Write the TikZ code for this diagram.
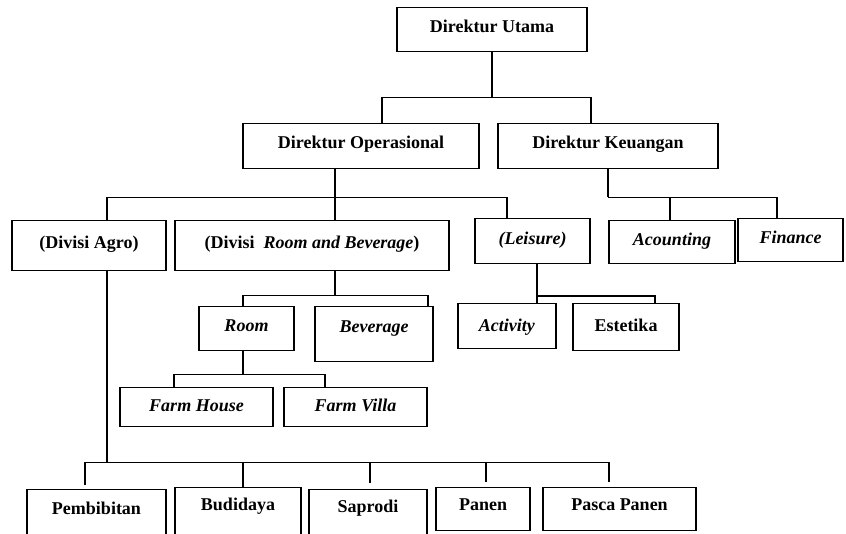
\documentclass[tikz,border=0pt]{standalone}
\usepackage{fontspec}
\setmainfont{Liberation Serif}
\begin{document}
\begin{tikzpicture}
  [x=1pt,y=-1pt,line width=1.3pt,
   every node/.style={draw,anchor=north,inner sep=0pt,font=\fontsize{18}{20}\selectfont\bfseries},
   bx/.style n args={3}{minimum width=#1,text height=#2,text depth=#3}]
  \useasboundingbox (0,0) rectangle (846,533);
  \clip (0,0) rectangle (846,533);

  \node[bx={190pt}{25pt}{19pt}] (du) at (492,7) {Direktur Utama};
  \node[bx={236pt}{25pt}{20pt}] (dop) at (361,123) {Direktur Operasional};
  \node[bx={220pt}{25pt}{20pt}] (dk) at (608,123) {Direktur Keuangan};

  \node[bx={154pt}{28pt}{22pt}] (agro) at (89,220) {(Divisi Agro)};
  \node[bx={274pt}{28pt}{22pt}] (rb) at (312,220) {(Divisi\ \ \textit{Room and Beverage})};
  \node[bx={115pt}{26pt}{19pt}] (lei) at (532.5,218) {\textit{(Leisure)}};
  \node[bx={126pt}{25pt}{18pt}] (acc) at (672,220) {\textit{Acounting}};
  \node[bx={105pt}{25pt}{18pt}] (fin) at (790.5,218) {\textit{Finance}};

  \node[bx={95pt}{25pt}{19pt}] (room) at (246.5,306) {\textit{Room}};
  \node[bx={118pt}{26pt}{29pt}] (bev) at (374,306) {\textit{Beverage}};
  \node[bx={98pt}{28pt}{17pt}] (act) at (507,303) {\textit{Activity}};
  \node[bx={106pt}{28pt}{19pt}] (est) at (626,303) {Estetika};

  \node[bx={153pt}{24pt}{15pt}] (fh) at (196.5,387) {\textit{Farm House}};
  \node[bx={143pt}{24pt}{15pt}] (fv) at (355.5,387) {\textit{Farm Villa}};

  \node[bx={139pt}{25pt}{40pt}] (pem) at (96.5,489) {Pembibitan};
  \node[bx={126pt}{23pt}{40pt}] (bud) at (238,487) {Budidaya};
  \node[bx={118pt}{23pt}{40pt}] (sap) at (368,489) {Saprodi};
  \node[bx={94pt}{23pt}{20pt}] (pan) at (483,487) {Panen};
  \node[bx={153pt}{23pt}{20pt}] (pas) at (619.5,487) {Pasca Panen};

  % direktur
  \draw (du.south) -- ++(0,45) coordinate (a1);
  \draw ([xshift=21pt]dop.north) |- (a1) -| ([xshift=-17pt]dk.north);

  % operasional
  \draw ([xshift=-26pt]dop.south) -- ([xshift=23pt]rb.north);
  \path ([xshift=-26pt]dop.south) -- ++(0,28) coordinate (a2);
  \draw ([xshift=18pt]agro.north) |- (a2) -| ([xshift=-25.5pt]lei.north);

  % keuangan
  \draw (dk.south) -- ++(0,28) coordinate (a3);
  \draw ([xshift=-2pt]acc.north) |- (a3) -| ([xshift=-13.5pt]fin.north);

  % room and beverage
  \draw ([xshift=23pt]rb.south) -- ++(0,24) coordinate (a4);
  \draw ([xshift=-3.5pt]room.north) |- (a4) -| ([xshift=54pt]bev.north);
  \draw ([xshift=-3.5pt]room.south) -- ++(0,23) coordinate (a6);
  \draw ([xshift=-22.5pt]fh.north) |- (a6) -| ([xshift=-30.5pt]fv.north);

  % leisure
  \draw ([xshift=4.5pt]lei.south) -- ([xshift=30pt]act.north);
  \path ([xshift=30pt]act.north) -- ++(0,-7) coordinate (a5);
  \draw (a5) -| ([xshift=29pt]est.north);

  % agro
  \draw ([xshift=18pt]agro.south) -- ++(0,191) coordinate (a7);
  \draw ([xshift=-11.5pt]pem.north |- a7) -- ([xshift=-10.5pt]pas.north |- a7);
  \foreach \n/\s/\g in {pem/-11.5/4, bud/5/0, sap/2/6, pan/3/5, pas/-10.5/5}
    \draw[shorten >=\g pt] ([xshift=\s pt]\n.north |- a7) -- ([xshift=\s pt]\n.north);
\end{tikzpicture}
\end{document}
